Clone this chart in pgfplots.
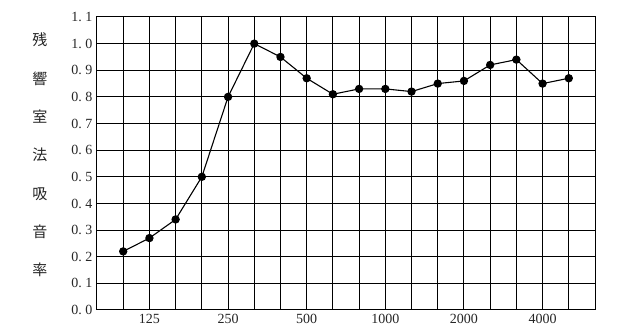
\documentclass[border=0pt]{standalone}
\usepackage{pgfplots}
\pgfplotsset{compat=1.18}
\usepackage{fontspec}
\setmainfont{Liberation Serif}
\newfontfamily\cjk{Noto Sans CJK JP}
\newcommand\dsp{\hspace{0.25em}}
\begin{document}
\begin{tikzpicture}
\begin{axis}[
  scale only axis,
  width=498pt, height=293pt,
  xmin=0, xmax=19, ymin=0, ymax=1.1,
  xtick={0,...,19},
  xticklabels={,,125,,,250,,,500,,,1000,,,2000,,,4000,,},
  ytick={0,0.1,...,1.1},
  yticklabels={0.\dsp0,0.\dsp1,0.\dsp2,0.\dsp3,0.\dsp4,0.\dsp5,0.\dsp6,0.\dsp7,0.\dsp8,0.\dsp9,1.\dsp0,1.\dsp1},
  major tick length=0pt,
  grid=major,
  grid style={black, line width=1pt},
  axis line style={black, line width=1pt},
  ticklabel style={font=\fontsize{14pt}{16pt}\selectfont, text=black!85},
  yticklabel style={xshift=-1pt},
  xticklabel style={yshift=-1pt},
  ylabel={残\\響\\室\\法\\吸\\音\\率},
  ylabel style={rotate=-90, align=center, anchor=center,
    at={(axis description cs:-0.1145,0.529)},
    font=\cjk\fontsize{15pt}{38.3pt}\selectfont, text=black!85},
]
\addplot[black, line width=1.1pt, mark=*, mark size=3.6pt] coordinates {
(1,0.22) (2,0.27) (3,0.34) (4,0.50) (5,0.80) (6,1.00) (7,0.95) (8,0.87)
(9,0.81) (10,0.83) (11,0.83) (12,0.82) (13,0.85) (14,0.86) (15,0.92)
(16,0.94) (17,0.85) (18,0.87)
};
\end{axis}
\path ([xshift=-97pt,yshift=-26pt]current axis.south west) rectangle ([xshift=26pt,yshift=17pt]current axis.north east);
\end{tikzpicture}
\end{document}
